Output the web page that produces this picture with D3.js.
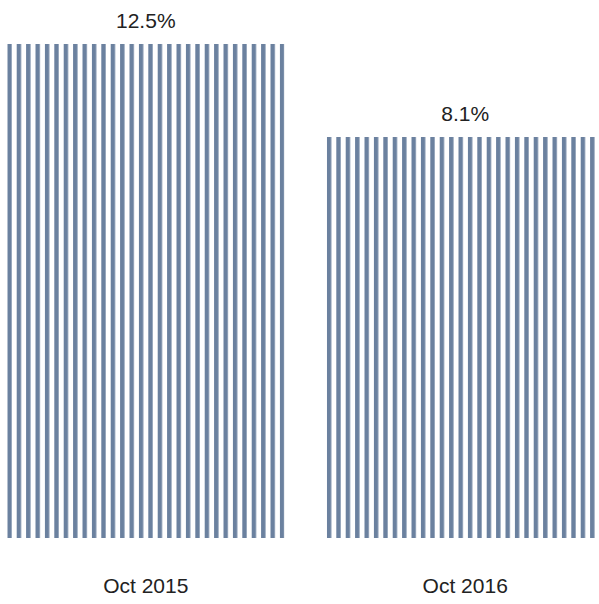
<!DOCTYPE html>
<html lang="en">
<head>
    <meta charset="UTF-8">
    <title>Bar chart</title>
    <script src="https://cdn.jsdelivr.net/npm/d3@7"></script>
    <style>
        body { margin: 0; background: #fff; }
        text { font-family: "Liberation Sans", Arial, sans-serif; fill: #222; }
    </style>
</head>
<body>
<div id="chart"></div>
<script>
    var categories = ["Oct 2015", "Oct 2016"];
    var values = [12.5, 8.1];
    var valueLabels = ["12.5%", "8.1%"];

    var width = 599;
    var height = 604;

    var svg = d3.select("#chart")
            .append("svg")
            .attr("width", width)
            .attr("height", height);

    // vertical stripe pattern
    var stripeStep = 9.4;
    var pattern = svg.append("defs")
            .append("pattern")
            .attr("id", "stripes")
            .attr("patternUnits", "userSpaceOnUse")
            .attr("x", 7.3)
            .attr("y", 0)
            .attr("width", stripeStep)
            .attr("height", 10);
    pattern.append("rect")
            .attr("x", 0)
            .attr("y", 0)
            .attr("width", 4.4)
            .attr("height", 10)
            .attr("fill", "#6b819f");

    var xScale = d3.scaleBand()
            .domain(categories)
            .range([7.3, 603.7])
            .paddingInner(0.1328)
            .paddingOuter(0);

    // the baseline is not zero in the original chart
    var yScale = d3.scaleLinear()
            .domain([-10.87, 12.5])
            .range([538, 44]);

    svg.selectAll("rect.bar")
            .data(values)
            .enter()
            .append("rect")
            .attr("class", "bar")
            .attr("x", function (d, i) { return xScale(categories[i]); })
            .attr("y", function (d) { return yScale(d); })
            .attr("width", xScale.bandwidth())
            .attr("height", function (d) { return yScale.range()[0] - yScale(d); })
            .attr("fill", "url(#stripes)");

    svg.selectAll("text.value")
            .data(values)
            .enter()
            .append("text")
            .attr("class", "value")
            .attr("x", function (d, i) { return xScale(categories[i]) + xScale.bandwidth() / 2; })
            .attr("y", function (d) { return yScale(d) - 16; })
            .attr("text-anchor", "middle")
            .style("font-size", "21px")
            .text(function (d, i) { return valueLabels[i]; });

    var xAxis = d3.axisBottom(xScale).tickSize(0).tickPadding(0);
    var gx = svg.append("g")
            .attr("transform", "translate(0,578)")
            .call(xAxis);
    gx.select(".domain").remove();
    gx.selectAll("text")
            .attr("dy", "0.71em")
            .style("font-size", "21px")
            .attr("fill", "#222");
</script>
</body>
</html>
